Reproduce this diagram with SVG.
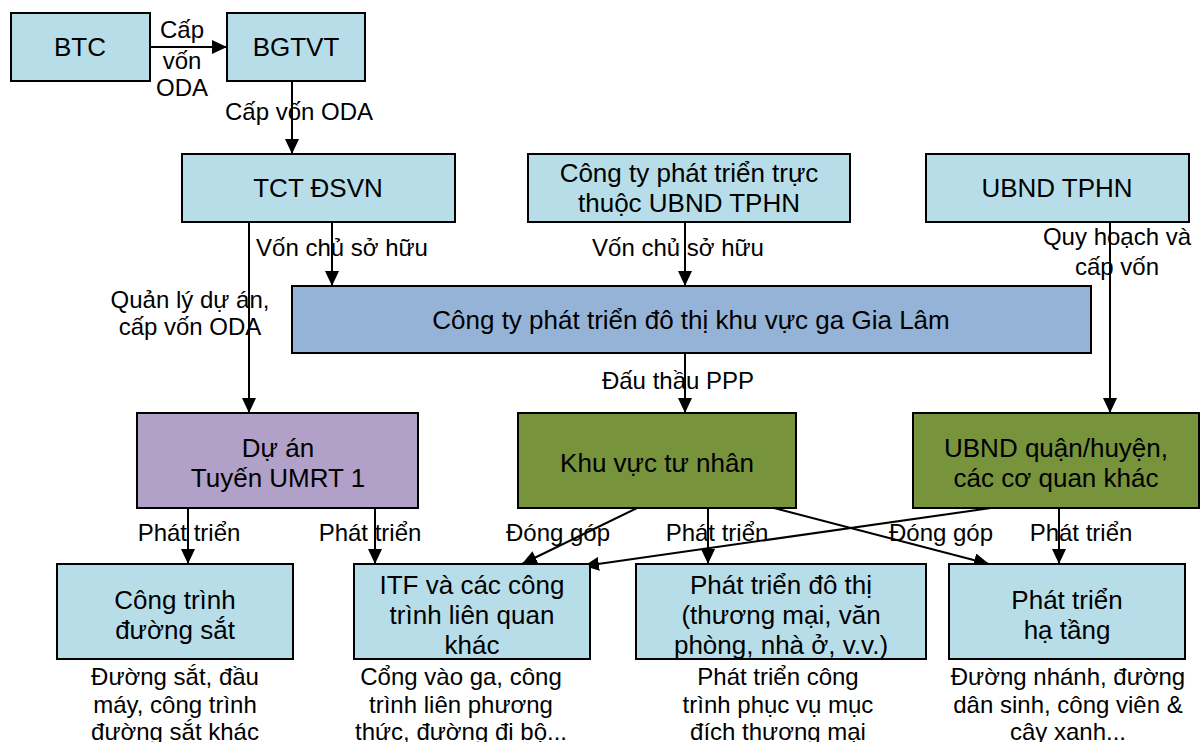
<svg xmlns="http://www.w3.org/2000/svg" width="1200" height="742" viewBox="0 0 1200 742">
<style>
.box{stroke:#000;stroke-width:2}
.lb{fill:#B7DEE8}
.bl{fill:#95B3D7}
.pu{fill:#B1A0C7}
.gr{fill:#77933C}
text{font-family:"Liberation Sans",Arial,sans-serif;fill:#000;text-anchor:middle}
.t{font-size:26px}
.s{font-size:24px}
.c line{stroke:#000;stroke-width:2;marker-end:url(#ah)}
</style>
<defs>
<marker id="ah" markerUnits="userSpaceOnUse" markerWidth="16" markerHeight="14" refX="15" refY="7" orient="auto">
<path d="M0,0 L15,7 L0,14 z" fill="#000"/>
</marker>
</defs>
<g id="connectors" class="c">
<line x1="150" y1="47" x2="227" y2="47"/>
<line x1="292" y1="81" x2="292" y2="154"/>
<line x1="332" y1="222" x2="332" y2="286"/>
<line x1="249" y1="222" x2="249" y2="413"/>
<line x1="685" y1="222" x2="685" y2="286"/>
<line x1="1110" y1="222" x2="1110" y2="413"/>
<line x1="685" y1="353" x2="685" y2="413"/>
<line x1="188" y1="508" x2="188" y2="564"/>
<line x1="375" y1="508" x2="375" y2="564"/>
<line x1="708" y1="508" x2="708" y2="564"/>
<line x1="637" y1="508" x2="522" y2="564"/>
<line x1="774" y1="508" x2="989" y2="564"/>
<line x1="991" y1="508" x2="584" y2="566"/>
<line x1="1059" y1="508" x2="1059" y2="564"/>
</g>
<g id="labels">
<text class="s" x="182" y="38">Cấp</text>
<text class="s" x="182" y="69">vốn</text>
<text class="s" x="182" y="96">ODA</text>
<text class="s" x="299" y="120">Cấp vốn ODA</text>
<text class="s" x="342" y="256">Vốn chủ sở hữu</text>
<text class="s" x="190" y="308">Quản lý dự án,</text>
<text class="s" x="190" y="335">cấp vốn ODA</text>
<text class="s" x="678" y="256">Vốn chủ sở hữu</text>
<text class="s" x="1117" y="245">Quy hoạch và</text>
<text class="s" x="1117" y="275">cấp vốn</text>
<text class="s" x="678" y="389">Đấu thầu PPP</text>
<text class="s" x="189" y="541">Phát triển</text>
<text class="s" x="370" y="541">Phát triển</text>
<text class="s" x="558" y="541">Đóng góp</text>
<text class="s" x="717" y="541">Phát triển</text>
<text class="s" x="941" y="541">Đóng góp</text>
<text class="s" x="1081" y="541">Phát triển</text>
</g>
<g id="btc"><rect class="box lb" x="11" y="13" width="139" height="68"/><text class="t" x="80" y="56">BTC</text></g>
<g id="bgtvt"><rect class="box lb" x="227" y="13" width="138" height="68"/><text class="t" x="296" y="56">BGTVT</text></g>
<g id="tct"><rect class="box lb" x="182" y="154" width="273" height="68"/><text class="t" x="318" y="197">TCT ĐSVN</text></g>
<g id="congty"><rect class="box lb" x="528" y="154" width="322" height="68"/><text class="t" x="689" y="182">Công ty phát triển trực</text><text class="t" x="689" y="212">thuộc UBND TPHN</text></g>
<g id="ubndtphn"><rect class="box lb" x="926" y="154" width="263" height="68"/><text class="t" x="1057" y="197">UBND TPHN</text></g>
<g id="gialam"><rect class="box bl" x="292" y="286" width="799" height="67"/><text class="t" x="691" y="329">Công ty phát triển đô thị khu vực ga Gia Lâm</text></g>
<g id="duan"><rect class="box pu" x="137" y="413" width="281" height="95"/><text class="t" x="278" y="457">Dự án</text><text class="t" x="278" y="487">Tuyến UMRT 1</text></g>
<g id="khuvuc"><rect class="box gr" x="518" y="413" width="278" height="95"/><text class="t" x="657" y="472">Khu vực tư nhân</text></g>
<g id="ubndquan"><rect class="box gr" x="913" y="413" width="286" height="95"/><text class="t" x="1056" y="457">UBND quận/huyện,</text><text class="t" x="1056" y="487">các cơ quan khác</text></g>
<g id="congtrinh"><rect class="box lb" x="57" y="564" width="236" height="95"/><text class="t" x="175" y="609">Công trình</text><text class="t" x="175" y="639">đường sắt</text>
<text class="s" x="175" y="685">Đường sắt, đầu</text><text class="s" x="175" y="713">máy, công trình</text><text class="s" x="175" y="740">đường sắt khác</text></g>
<g id="itf"><rect class="box lb" x="354" y="564" width="236" height="95"/><text class="t" x="472" y="594">ITF và các công</text><text class="t" x="472" y="624">trình liên quan</text><text class="t" x="472" y="654">khác</text>
<text class="s" x="461" y="685">Cổng vào ga, công</text><text class="s" x="461" y="713">trình liên phương</text><text class="s" x="461" y="740">thức, đường đi bộ...</text></g>
<g id="dothi"><rect class="box lb" x="636" y="564" width="290" height="95"/><text class="t" x="781" y="594">Phát triển đô thị</text><text class="t" x="781" y="624">(thương mại, văn</text><text class="t" x="781" y="654">phòng, nhà ở, v.v.)</text>
<text class="s" x="778" y="685">Phát triển công</text><text class="s" x="778" y="713">trình phục vụ mục</text><text class="s" x="778" y="740">đích thương mại</text></g>
<g id="hatang"><rect class="box lb" x="949" y="564" width="236" height="95"/><text class="t" x="1067" y="609">Phát triển</text><text class="t" x="1067" y="639">hạ tầng</text>
<text class="s" x="1068" y="685">Đường nhánh, đường</text><text class="s" x="1068" y="713">dân sinh, công viên &amp;</text><text class="s" x="1068" y="740">cây xanh...</text></g>
</svg>
